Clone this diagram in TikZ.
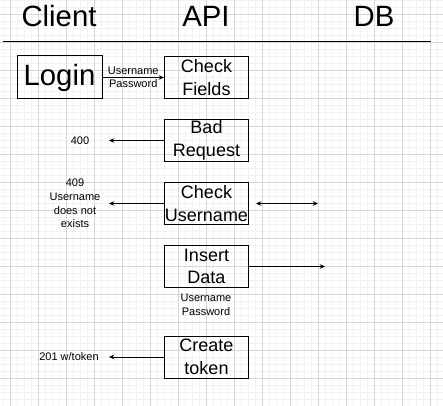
\documentclass[tikz,border=0pt]{standalone}
\usepackage{fontspec}
\setmainfont{Liberation Sans}
\usetikzlibrary{arrows.meta}
\begin{document}
\begin{tikzpicture}[x=0.75pt, y=-0.75pt, line width=0.75pt,
		box/.style={rectangle,draw=black,minimum width=63pt,minimum height=31.5pt,inner sep=0pt,align=center,font=\fontsize{13.5}{17}\selectfont},
		head/.style={font=\fontsize{22}{26}\selectfont},
		lbl/.style={font=\fontsize{8.25}{10.3}\selectfont,align=center,inner sep=1pt},
		msg/.style={-{Stealth[length=4pt,width=3.5pt]}},
		gridminor/.style={line width=0.4pt,black!5},
		gridmajor/.style={line width=0.6pt,black!16}
		]
	\useasboundingbox (0,0) rectangle (443,406);
	\fill[white] (0,0) rectangle (443,406);
	% grid
	\foreach \x in {3,10,...,443} \draw[gridminor] (\x,0) -- (\x,406);
	\foreach \y in {0,7,...,406} \draw[gridminor] (0,\y) -- (443,\y);
	\foreach \x in {10,38,...,443} \draw[gridmajor] (\x,0) -- (\x,406);
	\foreach \y in {14,42,...,406} \draw[gridmajor] (0,\y) -- (443,\y);
	% headers
	\node [head,anchor=base] (client) at (59,27) {Client};
	\node [head,anchor=base] (api) at (206,27) {API};
	\node [head,anchor=base] (db) at (374,27) {DB};
	\coordinate (ruleL) at (3,42);
	\coordinate (ruleR) at (431,42);
	\draw (ruleL) -- (ruleR);
	% boxes
	\node [box,minimum width=63.75pt,minimum height=32.25pt,font=\fontsize{22}{26}\selectfont] (login) at (59.5,77.5) {Login};
	\node [box] (fields) at (206.5,77.5) {Check\\Fields};
	\node [box] (bad) at (206.5,140.5) {Bad\\Request};
	\node [box] (uname) at (206.5,203.5) {Check\\Username};
	\node [box] (insert) at (206.5,266.5) {Insert\\Data};
	\node [box] (token) at (206.5,357) {Create\\token};
	% free ends
	\coordinate (e400) at (109,140.5);
	\coordinate (e409) at (109,203.5);
	\coordinate (dbL) at (256,203.5);
	\coordinate (dbR) at (318,203.5);
	\coordinate (dbIn) at (325,266.5);
	\coordinate (e201) at (109,357);
	% labels
	\node [lbl] (l400) at (80,140.5) {400};
	\node [lbl] (l409) at (75,203.5) {409\\Username\\does not\\exists};
	\node [lbl] (lcred) at (206,305) {Username\\Password};
	\node [lbl] (l201) at (69,357) {201 w/token};
	% connectors
	\draw[msg] (login) -- node[lbl,above=0.5pt] {Username} node[lbl,below=0.5pt] {Password} (fields);
	\draw[msg] (bad) -- (e400);
	\draw[msg] (uname) -- (e409);
	\draw[{Stealth[length=4pt,width=3.5pt]}-{Stealth[length=4pt,width=3.5pt]}] (dbL) -- (dbR);
	\draw[msg] (insert) -- (dbIn);
	\draw[msg] (token) -- (e201);
\end{tikzpicture}
\end{document}
